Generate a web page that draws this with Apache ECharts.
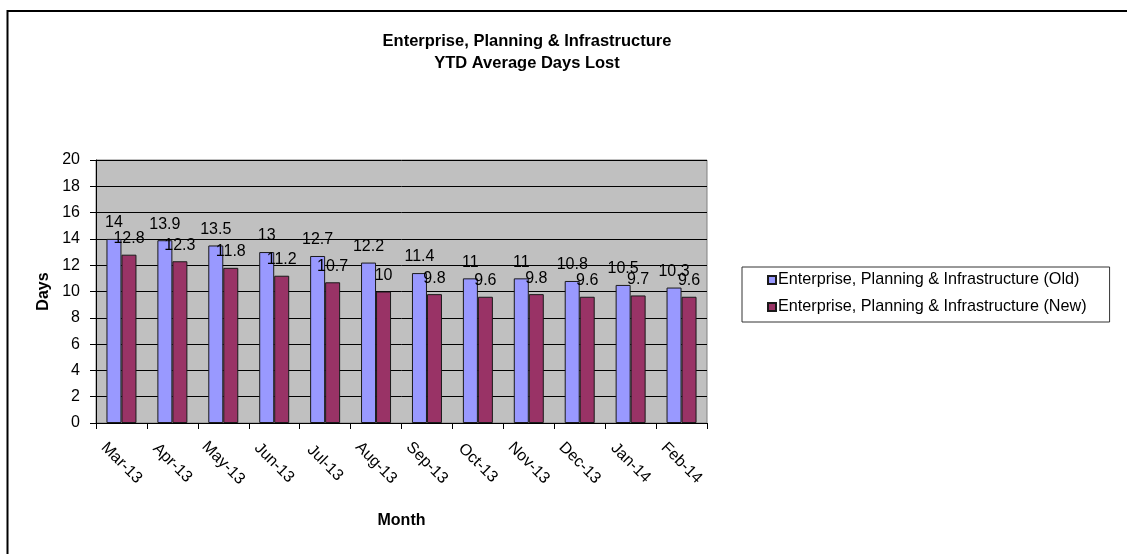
<!DOCTYPE html>
<html>
<head>
<meta charset="utf-8">
<title>Enterprise, Planning & Infrastructure - YTD Average Days Lost</title>
<script src="https://cdn.jsdelivr.net/npm/echarts@6/dist/echarts.min.js"></script>
<style>
  html, body { margin: 0; padding: 0; background: #ffffff; }
  #chart { width: 1127px; height: 554px; }
</style>
</head>
<body>
<div id="chart"></div>
<script>
// Month categories and year-to-date average days lost
const months = ['Mar-13', 'Apr-13', 'May-13', 'Jun-13', 'Jul-13', 'Aug-13',
                'Sep-13', 'Oct-13', 'Nov-13', 'Dec-13', 'Jan-14', 'Feb-14'];
const oldValues = [14, 13.9, 13.5, 13, 12.7, 12.2, 11.4, 11, 11, 10.8, 10.5, 10.3];
const newValues = [12.8, 12.3, 11.8, 11.2, 10.7, 10, 9.8, 9.6, 9.8, 9.6, 9.7, 9.6];
const yTicks = { min: 0, max: 20, interval: 2 };

const seriesNames = [
  'Enterprise, Planning & Infrastructure (Old)',
  'Enterprise, Planning & Infrastructure (New)'
];

const FONT = "'Liberation Sans', Arial, sans-serif";

const chart = echarts.init(document.getElementById('chart'), null, { renderer: 'canvas' });

function barSeries(name, values, color) {
  return {
    name: name,
    type: 'bar',
    data: values,
    barWidth: 15,
    barGap: '0%',
    itemStyle: { color: color, borderColor: '#1a1a1a', borderWidth: 1 },
    label: {
      show: true,
      position: 'top',
      distance: 8,
      color: '#000',
      fontFamily: FONT,
      fontSize: 16
    },
    emphasis: { disabled: true }
  };
}

chart.setOption({
  animation: false,
  backgroundColor: '#ffffff',
  textStyle: { fontFamily: FONT },
  title: {
    text: 'Enterprise, Planning & Infrastructure\nYTD Average Days Lost',
    left: 527,
    top: 30,
    textAlign: 'center',
    padding: 0,
    textStyle: {
      fontFamily: FONT,
      fontSize: 16.5,
      fontWeight: 'bold',
      color: '#000',
      lineHeight: 22,
      align: 'center'
    }
  },
  legend: {
    orient: 'vertical',
    left: 742,
    top: 267,
    padding: [5, 23, 7, 25],
    itemWidth: 8,
    itemHeight: 8,
    itemGap: 11,
    icon: 'rect',
    borderColor: '#333',
    borderWidth: 1,
    data: seriesNames,
    textStyle: { fontFamily: FONT, fontSize: 16.2, color: '#000', padding: [0, 0, 0, -3] }
  },
  grid: {
    left: 96,
    right: 420,
    top: 160,
    bottom: 131,
    show: true,
    backgroundColor: '#c0c0c0',
    borderColor: '#808080',
    borderWidth: 1,
    outerBoundsMode: 'none'
  },
  xAxis: {
    type: 'category',
    data: months,
    name: 'Month',
    nameLocation: 'middle',
    nameGap: 90,
    nameTextStyle: { fontFamily: FONT, fontSize: 16, fontWeight: 'bold', color: '#000' },
    axisLine: { lineStyle: { color: '#000', width: 1 } },
    axisTick: { show: true, length: 6, lineStyle: { color: '#000' } },
    axisLabel: {
      rotate: -45,
      align: 'center',
      verticalAlign: 'middle',
      margin: 40,
      interval: 0,
      fontFamily: FONT,
      fontSize: 16,
      color: '#000'
    },
    splitLine: { show: false }
  },
  yAxis: {
    type: 'value',
    min: yTicks.min,
    max: yTicks.max,
    interval: yTicks.interval,
    name: 'Days',
    nameLocation: 'middle',
    nameRotate: 90,
    nameGap: 44,
    nameTextStyle: { fontFamily: FONT, fontSize: 16, fontWeight: 'bold', color: '#000' },
    axisLine: { show: true, lineStyle: { color: '#000', width: 1 } },
    axisTick: { show: true, length: 6, lineStyle: { color: '#000' } },
    axisLabel: { margin: 16, fontFamily: FONT, fontSize: 16, color: '#000' },
    splitLine: { show: true, lineStyle: { color: '#000', width: 1 } }
  },
  graphic: [
    {
      type: 'polyline',
      silent: true,
      shape: { points: [[7.5, 554], [7.5, 11], [1127, 11]] },
      style: { stroke: '#000', lineWidth: 2, fill: null }
    }
  ],
  series: [
    barSeries(seriesNames[0], oldValues, '#9999ff'),
    barSeries(seriesNames[1], newValues, '#993366')
  ]
});
</script>
</body>
</html>
